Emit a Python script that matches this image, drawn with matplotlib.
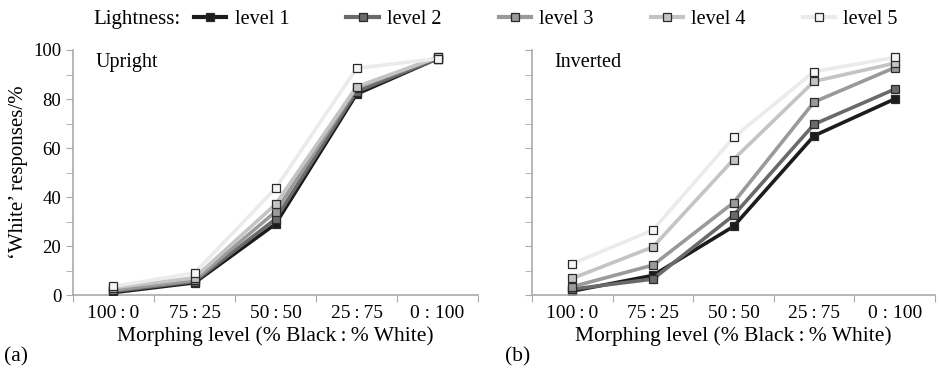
import matplotlib
matplotlib.use("Agg")
from matplotlib import pyplot as plt
from matplotlib.lines import Line2D

plt.rcParams['font.family'] = ['Liberation Serif', 'DejaVu Serif']

categories = ["100\u2009:\u20090", "75\u2009:\u200925", "50\u2009:\u200950",
              "25\u2009:\u200975", "0 : 100"]
levels = ["level 1", "level 2", "level 3", "level 4", "level 5"]

upright = [
    [1.0, 5.0, 29.0, 82.0, 96.5],
    [1.5, 5.5, 31.0, 83.0, 96.5],
    [2.0, 6.0, 34.0, 84.5, 97.0],
    [3.0, 7.0, 37.0, 85.0, 97.0],
    [3.5, 9.0, 43.5, 92.5, 96.5],
]
inverted = [
    [1.6, 8.0, 28.0, 65.0, 80.0],
    [2.4, 6.5, 32.5, 69.7, 84.0],
    [3.4, 12.2, 37.7, 78.8, 92.8],
    [6.8, 19.6, 55.3, 87.2, 94.6],
    [12.8, 26.5, 64.3, 91.2, 97.0],
]

line_colors = ["#1c1c1c", "#6a6a6a", "#9a9a9a", "#c4c4c4", "#ebebeb"]
face_colors = ["#1c1c1c", "#6a6a6a", "#9a9a9a", "#c4c4c4", "#f6f6f6"]

fig = plt.figure(figsize=(9.43, 3.69), dpi=100)
ax1 = fig.add_axes([0.0774, 0.2005, 0.4296, 0.664])
ax2 = fig.add_axes([0.5642, 0.2005, 0.4273, 0.664])

x = list(range(len(categories)))
for ax, data, name in [(ax1, upright, "Upright"), (ax2, inverted, "Inverted")]:
    for i, vals in enumerate(data):
        ax.plot(x, vals, color=line_colors[i], lw=2.6, marker='s', ms=6,
                mfc=face_colors[i], mec="#2a2a2a", mew=0.9, zorder=2 + i)
    ax.set_xlim(-0.5, 4.5)
    ax.set_ylim(0, 100)
    ax.set_xticks([i - 0.5 for i in range(6)])
    ax.set_xticklabels([])
    ax.set_xticks(x, minor=True)
    ax.set_xticklabels(categories, minor=True, fontsize=14)
    ax.tick_params(axis='x', which='minor', length=0, pad=7)
    ax.tick_params(axis='x', which='major', length=5, color="#aaaaaa")
    ax.set_yticks(range(0, 101, 20))
    ax.set_yticks(range(10, 100, 20), minor=True)
    ax.tick_params(axis='y', which='both', length=5, color="#aaaaaa", labelsize=13.5)
    for s in ["top", "right"]:
        ax.spines[s].set_visible(False)
    for s in ["left", "bottom"]:
        ax.spines[s].set_color("#aaaaaa")
        ax.spines[s].set_linewidth(1.2)
    ax.set_xlabel("Morphing level (% Black\u2009:\u2009% White)", fontsize=15.5, labelpad=3)
    ax.text(0.055, 0.95, name, transform=ax.transAxes, fontsize=14.5, va='center')

ax1.set_ylabel("\u2018White\u2019 responses/%", fontsize=15)
ax2.set_yticklabels([])

fig.text(0.004, 0.034, "(a)", fontsize=15.5, va='center')
fig.text(0.535, 0.034, "(b)", fontsize=15.5, va='center')

handles = [Line2D([], [], color=line_colors[i], lw=3, marker='s', ms=6,
                  mfc=face_colors[i], mec="#2a2a2a", mew=0.9) for i in range(5)]
fig.text(0.099, 0.948, "Lightness:", fontsize=15, va='center')
fig.legend(handles, levels, loc='center left', bbox_to_anchor=(0.206, 0.948),
           ncol=5, frameon=False, fontsize=14.5, handlelength=1.6,
           handletextpad=0.4, columnspacing=2.85, borderpad=0, borderaxespad=0)

fig.savefig("out.png", dpi=100)
